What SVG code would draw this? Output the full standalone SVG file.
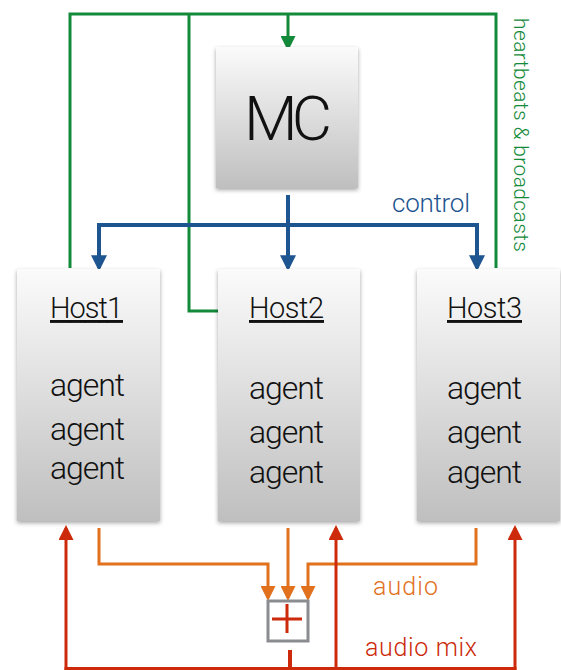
<svg xmlns="http://www.w3.org/2000/svg" width="561" height="670" viewBox="0 0 561 670">
<defs>
<linearGradient id="boxg" x1="0" y1="0" x2="0" y2="1">
<stop offset="0" stop-color="#fbfbfb"/>
<stop offset="1" stop-color="#bfbfbf"/>
</linearGradient>
<filter id="sh" x="-10%" y="-10%" width="130%" height="130%">
<feDropShadow dx="0" dy="2" stdDeviation="2" flood-color="#000" flood-opacity="0.35"/>
</filter>
<marker id="ag" markerWidth="5" markerHeight="5" refX="4" refY="2.5" orient="auto" markerUnits="strokeWidth"><path d="M0,0 L5,2.5 L0,5 Z" fill="#13893a"/></marker>
<marker id="ab" markerWidth="4" markerHeight="4" refX="3.2" refY="2" orient="auto" markerUnits="strokeWidth"><path d="M0,0 L4,2 L0,4 Z" fill="#1d5590"/></marker>
<marker id="ao" markerWidth="5" markerHeight="5" refX="4" refY="2.5" orient="auto" markerUnits="strokeWidth"><path d="M0,0 L5,2.5 L0,5 Z" fill="#e2711d"/></marker>
<marker id="ar" markerWidth="5" markerHeight="5" refX="4" refY="2.5" orient="auto" markerUnits="strokeWidth"><path d="M0,0 L5,2.5 L0,5 Z" fill="#cc2a0a"/></marker>
</defs>
<style>
.box{fill:url(#boxg);filter:url(#sh);}
text{font-family:Roboto,"Liberation Sans",Arial,sans-serif;font-weight:300;}
.t{fill:#111;}
.h{font-size:29px;text-decoration:underline;}
.a{font-size:32px;}
.g{fill:none;stroke:#13893a;stroke-width:3;}
.b{fill:none;stroke:#1d5590;stroke-width:4;}
.o{fill:none;stroke:#e2711d;stroke-width:3;}
.r{fill:none;stroke:#cc2a0a;stroke-width:3;}
</style>
<rect width="561" height="670" fill="#fff"/>
<g id="connectors">
<path class="g" d="M70,268 V14 H496 V268"/>
<path class="g" d="M218,311 H189 V14"/>
<path class="g" d="M288,14 V48" marker-end="url(#ag)"/>
<path class="b" d="M288,195 V268" marker-end="url(#ab)"/>
<path class="b" d="M99,268 V225 H477 V268" marker-end="url(#ab)"/>
<path class="b" d="M99,225 V268" marker-end="url(#ab)"/>
<path class="o" d="M99,528 V564 H268 V598" marker-end="url(#ao)"/>
<path class="o" d="M288,528 V598" marker-end="url(#ao)"/>
<path class="o" d="M476,528 V564 H308 V598" marker-end="url(#ao)"/>
<path class="r" d="M66,670 V528" marker-end="url(#ar)"/>
<path class="r" d="M336,670 V528" marker-end="url(#ar)"/>
<path class="r" d="M515,670 V528" marker-end="url(#ar)"/>
<path class="r" d="M64.5,668.5 H516.5"/>
<path d="M290,650 V670" stroke="#cc2a0a" stroke-width="4" fill="none"/>
<text x="392" y="212" font-size="26" textLength="78" fill="#1d5590">control</text>
<text transform="translate(514,18) rotate(90)" font-size="21" textLength="234" fill="#13893a">heartbeats &amp; broadcasts</text>
<text x="373" y="595" font-size="25" textLength="65" fill="#e2711d">audio</text>
<text x="365" y="656" font-size="25" textLength="112" fill="#cc2a0a">audio mix</text>
</g>
<g id="mc">
<rect class="box" x="216" y="47" width="142" height="141"/>
<text class="t" x="244" y="140" font-size="62" textLength="88">MC</text>
</g>
<g id="host1">
<rect class="box" x="17" y="269" width="143" height="252"/>
<text class="t h" x="50" y="318" textLength="73">Host1</text>
<text class="t a" x="50" y="396" textLength="75">agent</text>
<text class="t a" x="50" y="440" textLength="75">agent</text>
<text class="t a" x="50" y="479" textLength="75">agent</text>
</g>
<g id="host2">
<rect class="box" x="218" y="269" width="142" height="252"/>
<text class="t h" x="249" y="318" textLength="75">Host2</text>
<text class="t a" x="249" y="399" textLength="75">agent</text>
<text class="t a" x="249" y="443" textLength="75">agent</text>
<text class="t a" x="249" y="483" textLength="75">agent</text>
</g>
<g id="host3">
<rect class="box" x="417" y="269" width="143" height="252"/>
<text class="t h" x="447" y="318" textLength="75">Host3</text>
<text class="t a" x="447" y="399" textLength="75">agent</text>
<text class="t a" x="447" y="443" textLength="75">agent</text>
<text class="t a" x="447" y="483" textLength="75">agent</text>
</g>
<g id="mixer">
<rect x="268" y="601" width="40" height="40" fill="#fff" stroke="#8a8c90" stroke-width="3"/>
<path d="M272,619 H302 M287,604 V633" stroke="#cc2a0a" stroke-width="3" fill="none"/>
</g>
</svg>
